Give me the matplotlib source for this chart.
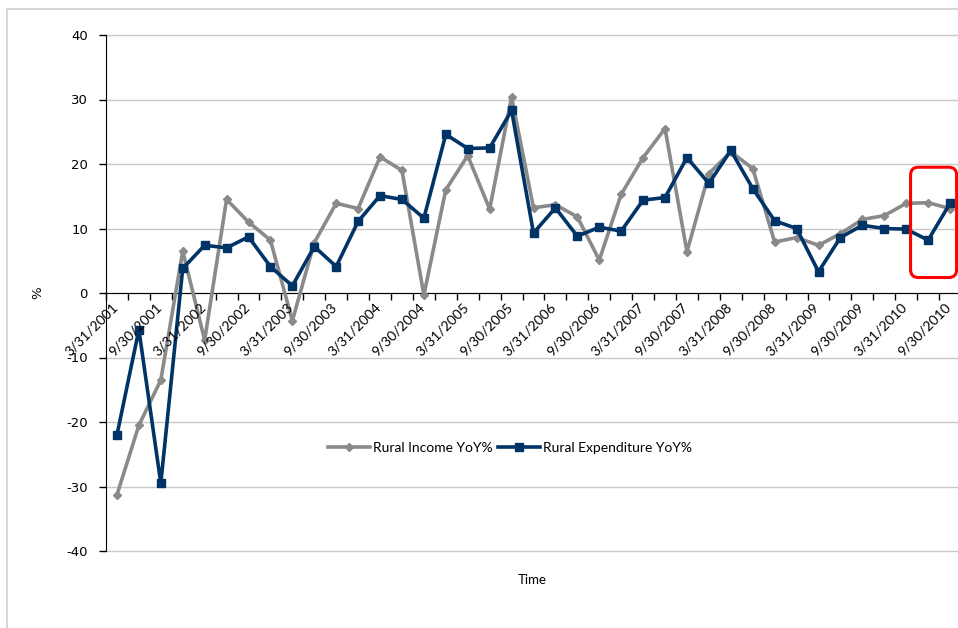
import numpy as np
import pandas as pd
import matplotlib
matplotlib.use("Agg")
import matplotlib.pyplot as plt
from matplotlib.patches import Rectangle, FancyBboxPatch

# quarterly YoY growth
income = [-31.3, -20.5, -13.5, 6.5, -7.3, 14.5, 11.0, 8.2, -4.3, 7.8,
          13.9, 13.1, 21.1, 19.0, -0.3, 16.0, 21.3, 13.0, 30.4, 13.2,
          13.7, 11.8, 5.1, 15.3, 21.0, 25.5, 6.4, 18.5, 21.9, 19.3,
          7.9, 8.6, 7.4, 9.2, 11.4, 12.0, 13.9, 14.0, 13.1]
expenditure = [-22.0, -5.7, -29.5, 3.8, 7.4, 7.0, 8.7, 4.1, 1.1, 7.2,
               4.1, 11.1, 15.1, 14.5, 11.6, 24.6, 22.4, 22.5, 28.3, 9.3,
               13.2, 8.8, 10.2, 9.6, 14.4, 14.8, 21.0, 17.0, 22.1, 16.2,
               11.2, 10.0, 3.3, 8.6, 10.5, 10.0, 9.9, 8.2, 13.9]
dates = pd.date_range("2001-03-31", periods=len(income), freq="QE")
date_labels = [f"{d.month}/{d.day}/{d.year}" for d in dates]
y_ticks = [-40, -30, -20, -10, 0, 10, 20, 30, 40]

GRAY = "#8a8a8a"
NAVY = "#003366"
W, H = 958, 628

fig = plt.figure(figsize=(W / 100, H / 100), dpi=100)
# axes runs slightly past the right edge, as in the cropped original
ax = fig.add_axes([106 / W, (H - 551) / H, (961 - 106) / W, (551 - 35) / H])

# outer chart border
fig.patches.append(Rectangle((7 / W, -0.1), 1.2, (H - 9) / H + 0.1, transform=fig.transFigure,
                             fill=False, edgecolor="#cfcfcf", lw=1.2))

x = np.arange(len(income))
ax.plot(x, income, color=GRAY, lw=2.6, marker="D", ms=4, mfc=GRAY, mec=GRAY,
        label="Rural Income YoY%", zorder=3)
ax.plot(x, expenditure, color=NAVY, lw=2.6, marker="s", ms=5.5, mfc=NAVY, mec=NAVY,
        label="Rural Expenditure YoY%", zorder=4)

ax.set_xlim(-0.5, len(income) - 0.5)
ax.set_ylim(-40, 40)
ax.set_yticks(y_ticks)
ax.set_yticklabels([str(t) for t in y_ticks], fontsize=9.5, family="DejaVu Sans")
ax.yaxis.grid(True, color="#c8c8c8", lw=1)
for gl in ax.get_ygridlines():
    gl.set_clip_on(False)
ax.set_axisbelow(True)

for s in ["top", "right"]:
    ax.spines[s].set_visible(False)
ax.spines["left"].set_color("black")
ax.spines["left"].set_zorder(2.5)
ax.spines["bottom"].set_position(("data", 0))
ax.spines["bottom"].set_color("black")
ax.spines["bottom"].set_zorder(2)

# tick marks on category boundaries, labels at every other category
ax.set_xticks(np.arange(len(income) + 1) - 0.5)
ax.set_xticklabels([])
ax.tick_params(axis="x", which="major", direction="out", length=5, width=1)
ax.tick_params(axis="y", direction="out", length=5, width=1, pad=8)
for i in range(0, len(income), 2):
    ax.text(i - 0.25, -1.2, date_labels[i], rotation=45, ha="right", va="top",
            rotation_mode="anchor", fontsize=10, family="Lato", zorder=5)

ax.set_ylabel("%", fontsize=9.5, family="DejaVu Sans", labelpad=16)
fig.text(532 / W, (H - 580) / H, "Time", ha="center", va="center", fontsize=9.5, family="Lato")

leg = ax.legend(loc="center", bbox_to_anchor=((510 - 106) / (961 - 106), (551 - 448) / 516),
                ncol=2, frameon=False, handlelength=3.0, columnspacing=0.4,
                handletextpad=0.2, prop={"family": "Lato", "size": 10})

# red highlight box around the last two quarters
box = FancyBboxPatch((36.2, 2.4), 2.1, 17.1, boxstyle="round,pad=0,rounding_size=0.36",
                     mutation_aspect=3.4, fill=False, edgecolor="red", lw=2.2, clip_on=False, zorder=6)
ax.add_patch(box)

fig.savefig("out.png", dpi=100)
